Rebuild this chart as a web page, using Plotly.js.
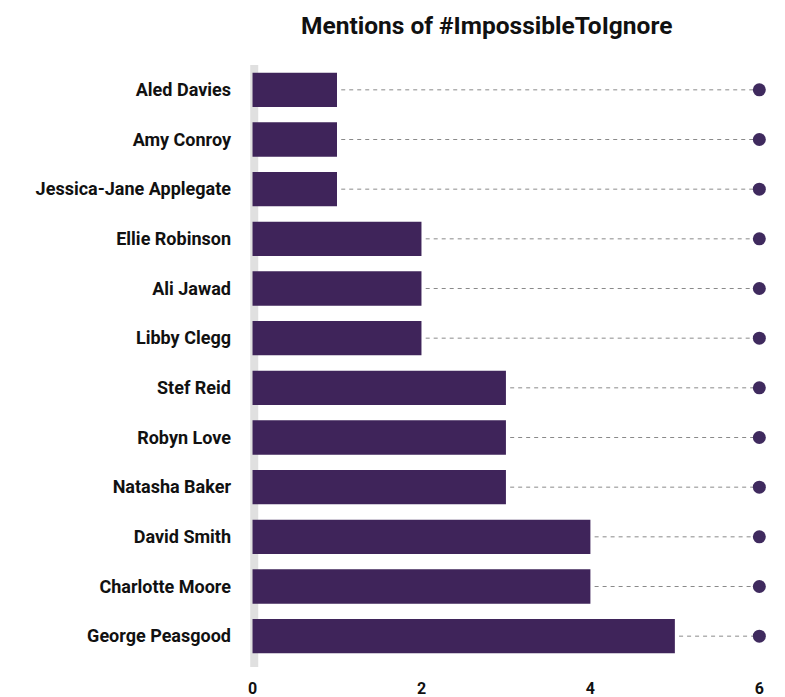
<!DOCTYPE html>
<html><head><meta charset="utf-8">
<script src="https://cdn.plot.ly/plotly-3.0.1.min.js"></script>
<style>body{margin:0;background:#fff}#c{width:785px;height:697px}</style>
</head><body><div id="c"></div>
<script>
var names = ["Aled Davies","Amy Conroy","Jessica-Jane Applegate","Ellie Robinson","Ali Jawad","Libby Clegg","Stef Reid","Robyn Love","Natasha Baker","David Smith","Charlotte Moore","George Peasgood"];
var mentions = [1,1,1,2,2,2,3,3,3,4,4,5];
var target = 6;
var tickVals = [0,2,4,6];

var traces = [];
traces.push({type:'bar', orientation:'h', x:mentions, y:names, width:0.69,
  marker:{color:'#3f245a', line:{width:0}}, hoverinfo:'x+y'});
names.forEach(function(n,i){
  traces.push({type:'scatter', mode:'lines', x:[mentions[i]+0.05, target], y:[n,n],
    line:{color:'#8a8a8a', width:1, dash:'4px,4px'}, hoverinfo:'skip'});
});
traces.push({type:'scatter', mode:'markers', x:names.map(function(){return target;}), y:names,
  marker:{color:'#3f2a5e', size:13}, hoverinfo:'skip'});

var layout = {
  width:785, height:697, showlegend:false,
  paper_bgcolor:'#fff', plot_bgcolor:'#fff',
  margin:{l:250, r:13, t:65, b:36},
  title:{text:'<b>Mentions of #ImpossibleToIgnore</b>', x:0.62, xanchor:'center', y:0.963, yanchor:'middle',
    font:{family:'Roboto, sans-serif', size:24.5, color:'#111'}},
  xaxis:{range:[-0.03,6.15], tickvals:tickVals, showgrid:false, zeroline:false, showline:false,
    ticklabelstandoff:16, tickfont:{family:'Roboto, sans-serif', size:16, color:'#111', weight:'bold'}},
  yaxis:{range:[11.5,-0.5], showgrid:false, zeroline:false, showline:false, ticks:'',
    ticklabelstandoff:18, tickfont:{family:'Roboto, sans-serif', size:18, color:'#111', weight:'bold'}},
  shapes:[{type:'line', layer:'below', xref:'x', yref:'paper', x0:0.02, x1:0.02, y0:-0.01, y1:1.0,
    line:{color:'#e0e0e0', width:8}}]
};
Plotly.newPlot('c', traces, layout, {displayModeBar:false});
</script></body></html>
